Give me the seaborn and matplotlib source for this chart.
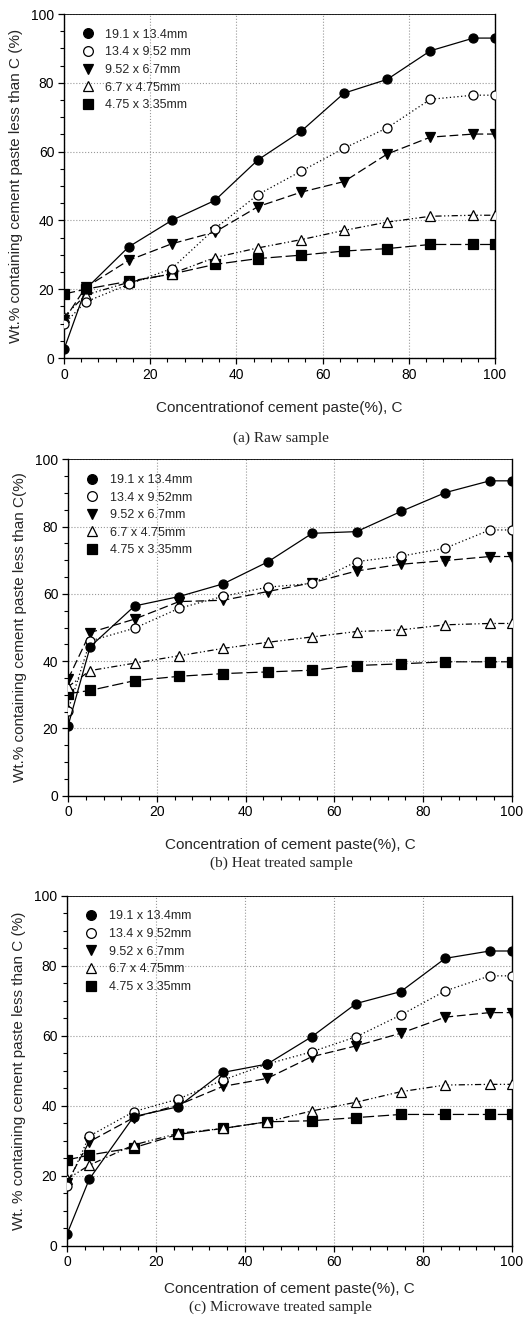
import numpy as np
import pandas as pd
import matplotlib
matplotlib.use("Agg")
import matplotlib.pyplot as plt
from matplotlib.lines import Line2D
from matplotlib.ticker import MultipleLocator
import seaborn as sns

conc = [0, 5, 15, 25, 35, 45, 55, 65, 75, 85, 95, 100]

# (a) Raw sample
raw_19 = [2.5, 20, 32.3, 40, 45.8, 57.6, 65.9, 77, 81, 89.3, 93, 93]
raw_13 = [9.9, 16.3, 21.4, 26, 37.6, 47.5, 54.3, 61, 66.9, 75.2, 76.4, 76.4]
raw_95 = [11, 20.5, 28.4, 33.2, 36.6, 44, 48.2, 51.3, 59.3, 64.2, 65.1, 65.1]
raw_67 = [12, 18.3, 22, 24.5, 29.2, 32, 34.4, 37.1, 39.5, 41.2, 41.5, 41.5]
raw_47 = [18.6, 20, 22.3, 24.4, 27.2, 28.9, 29.9, 31.1, 31.8, 33, 33, 33]

# (b) Heat treated sample
heat_19 = [20.7, 44.3, 56.4, 59.2, 63, 69.5, 78, 78.5, 84.5, 90.1, 93.6, 93.6]
heat_13 = [25.3, 46, 49.8, 55.7, 59.3, 62, 63.1, 69.6, 71.2, 73.6, 79, 79]
heat_95 = [34.6, 48.5, 52.5, 57.7, 58.1, 60.7, 63.3, 66.8, 68.8, 69.9, 71.1, 71.1]
heat_67 = [32.4, 37.2, 39.4, 41.6, 43.8, 45.6, 47.2, 48.8, 49.3, 50.8, 51.2, 51.2]
heat_47 = [30.3, 31.3, 34.2, 35.5, 36.3, 36.8, 37.3, 38.7, 39.2, 39.8, 39.8, 39.8]

# (c) Microwave treated sample
mw_19 = [3.3, 19, 36.9, 39.7, 49.5, 51.9, 59.7, 69.2, 72.6, 82.1, 84.2, 84.2]
mw_13 = [17.1, 31.3, 38.3, 41.9, 47.3, 51.9, 55.4, 59.7, 65.9, 72.8, 77.1, 77.1]
mw_95 = [18, 29.7, 36.6, 40.2, 45.5, 47.8, 54, 57.1, 60.7, 65.3, 66.6, 66.6]
mw_67 = [19, 23, 28.8, 32.1, 33.5, 35.4, 38.5, 41, 44, 45.9, 46.1, 46.1]
mw_47 = [24.5, 25.9, 28, 31.8, 33.5, 35.4, 35.7, 36.6, 37.5, 37.5, 37.5, 37.5]

labels_a = ["19.1 x 13.4mm", "13.4 x 9.52 mm", "9.52 x 6.7mm", "6.7 x 4.75mm", "4.75 x 3.35mm"]
labels_bc = ["19.1 x 13.4mm", "13.4 x 9.52mm", "9.52 x 6.7mm", "6.7 x 4.75mm", "4.75 x 3.35mm"]

xlabels = ["Concentrationof cement paste(%), C",
           "Concentration of cement paste(%), C",
           "Concentration of cement paste(%), C"]
ylabels = ["Wt.% containing cement paste less than C (%)",
           "Wt.% containing cement paste less than C(%)",
           "Wt. % containing cement paste less than C (%)"]
captions = ["(a) Raw sample", "(b) Heat treated sample", "(c) Microwave treated sample"]

panels = [
    [raw_19, raw_13, raw_95, raw_67, raw_47],
    [heat_19, heat_13, heat_95, heat_67, heat_47],
    [mw_19, mw_13, mw_95, mw_67, mw_47],
]

sns.set_theme(style="ticks")
plt.rcParams['font.family'] = ['Liberation Sans', 'DejaVu Sans']

markers = ["o", "o", "v", "^", "s"]
facecols = ["black", "white", "black", "white", "black"]
linestyles = ["-", (0, (1, 2)), (0, (7, 3)), (0, (5, 2, 1, 2, 1, 2)), (0, (9, 3))]
msizes = [6.5, 6.5, 6.5, 6.5, 6.5]

fig = plt.figure(figsize=(5.30, 13.27), dpi=100)
rects = [
    [64/530, 1-358/1327, (495-64)/530, (358-14)/1327],
    [68/530, 1-795.7/1327, (512-68)/530, (795.7-459.3)/1327],
    [67/530, 1-1245.7/1327, (512-67)/530, (1245.7-895.7)/1327],
]
xlabel_y = [408, 845, 1289]
caption_y = [438, 863, 1307]

for p, (rect, series) in enumerate(zip(rects, panels)):
    ax = fig.add_axes(rect)
    labs = labels_a if p == 0 else labels_bc
    for i, vals in enumerate(series):
        df = pd.DataFrame({"C": conc, "W": vals})
        sns.lineplot(data=df, x="C", y="W", ax=ax, color="black", lw=0.9,
                     linestyle=linestyles[i], marker=markers[i], markersize=msizes[i],
                     markerfacecolor=facecols[i], markeredgecolor="black",
                     markeredgewidth=0.9, legend=False, zorder=3 + (4 - i) * 0.1)
    ax.set_xlim(0, 100)
    ax.set_ylim(0, 100)
    ax.xaxis.set_major_locator(MultipleLocator(20))
    ax.xaxis.set_minor_locator(MultipleLocator(4))
    ax.yaxis.set_major_locator(MultipleLocator(20))
    ax.yaxis.set_minor_locator(MultipleLocator(5))
    ax.tick_params(which="major", direction="out", length=4, width=0.9, labelsize=10,
                   colors="black", pad=3)
    ax.tick_params(which="minor", direction="out", length=3, width=0.8, color="black",
                   bottom=True, left=True)
    ax.grid(True, which="major", linestyle=":", color="#999999", lw=0.8)
    for s in ax.spines.values():
        s.set_color("black")
        s.set_linewidth(1.0)
    ax.spines["top"].set_linewidth(0.6)
    ax.set_xlabel("")
    ax.set_ylabel(ylabels[p], fontsize=11, labelpad=6)
    fig.text((rect[0] + rect[2] / 2), 1 - xlabel_y[p] / 1327, xlabels[p],
             ha="center", va="center", fontsize=11)
    fig.text(0.53, 1 - caption_y[p] / 1327, captions[p], ha="center", va="center",
             fontsize=11, family=["Liberation Serif", "DejaVu Serif"])
    handles = [Line2D([], [], linestyle="none", marker=markers[i], markersize=7,
                      markerfacecolor=facecols[i], markeredgecolor="black",
                      markeredgewidth=0.9, color="black") for i in range(5)]
    ax.legend(handles, labs, loc="upper left", bbox_to_anchor=(0.015, 0.99),
              frameon=False, fontsize=9, handletextpad=0.9, labelspacing=0.45,
              handlelength=1.0)

fig.savefig("out.png", dpi=100)
